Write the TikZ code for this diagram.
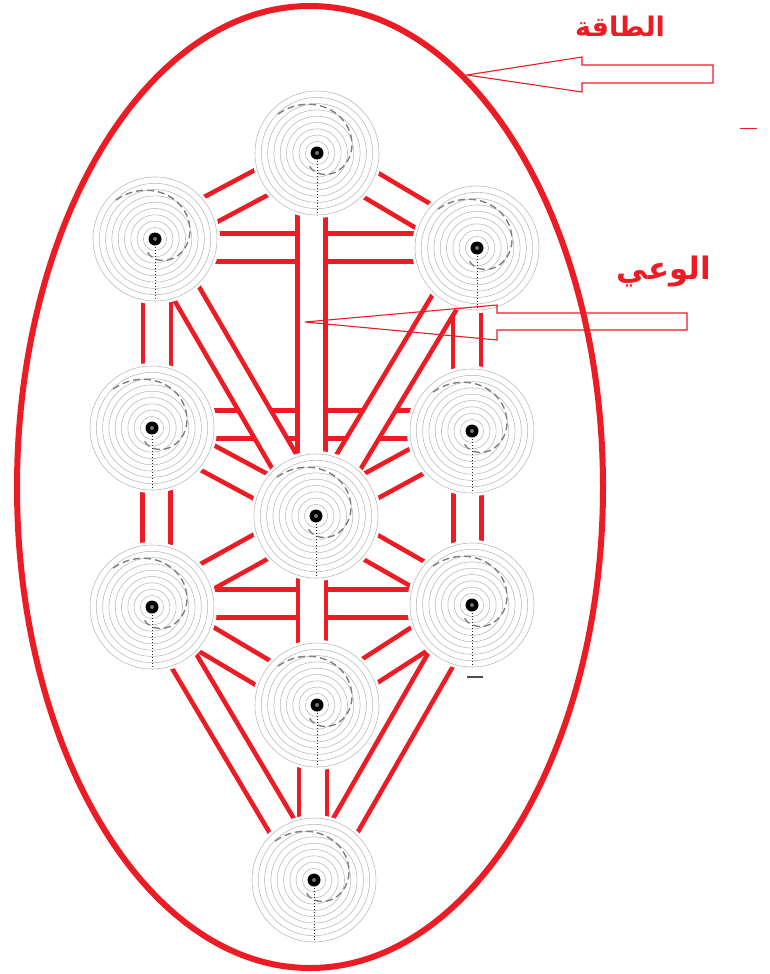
\documentclass[tikz,border=0pt]{standalone}
\usepackage{fontspec}
\usetikzlibrary{calc}
\TeXXeTstate=1
\newfontfamily\arabicfont[Script=Arabic]{DejaVu Sans}
\definecolor{pathred}{RGB}{237,28,36}
\tikzset{
 chan/.style={draw=pathred, line width=4.7pt, double=white, double distance=23.3pt, line cap=butt},
 ringline/.style={draw=black!28, line width=0.55pt},
 spiraldash/.style={draw=black!50, line width=1.4pt, dash pattern=on 7pt off 4pt},
 axisdot/.style={draw=black!85, line width=0.9pt, dash pattern=on 1.3pt off 1.7pt},
 sephira/.pic={
   \fill[white] (0,0) circle (65pt);
   \foreach \r in {62,55.7,49.4,43.1,36.8,30.5,24.2,17.9,11.6}{\draw[ringline] (0,0) circle (\r pt);}
   \draw[spiraldash] plot[domain=0:255, samples=70, smooth] ({(55-40*\x/255)*cos(135-\x)}, {-(55-40*\x/255)*sin(135-\x)});
   \draw[axisdot] (0,8) -- (0,62);
   \fill[black] (0,0) circle (6.5pt);
   \fill[black!55] (0,0) circle (2pt);
 },
 arrowout/.style={draw=pathred, line width=1.1pt, line join=miter},
 arlabel/.style={text=pathred, font=\arabicfont\bfseries, inner sep=0pt},
}
\begin{document}
\begin{tikzpicture}[x=1pt,y=-1pt]
\fill[white] (0,0) rectangle (769,974);
\useasboundingbox (0,0) rectangle (769,974);

% sephirot centres
\coordinate (N1) at (317,153);
\coordinate (N2) at (155,239);
\coordinate (N3) at (477,248);
\coordinate (N4) at (152,428);
\coordinate (N5) at (472,431);
\coordinate (N6) at (316,516);
\coordinate (N7) at (152,607);
\coordinate (N8) at (472,605);
\coordinate (N9) at (317,705);
\coordinate (N10) at (314,880);

% horizontal paths
\draw[chan] ($(N2)+(0,8.5)$) -- ($(N3)+(0,-0.5)$);
\draw[chan] ($(N4)+(0,-3.5)$) -- ($(N5)+(0,-6.5)$);
\draw[chan] ($(N7)+(0,-3.5)$) -- ($(N8)+(0,-1.5)$);
% side pillars
\draw[chan] ($(N2)+(2,0)$) -- ($(N4)+(5,0)$);
\draw[chan] ($(N3)+(-10,0)$) -- ($(N5)+(-5,0)$);
\draw[chan] ($(N4)+(4.5,0)$) -- ($(N7)+(4.5,0)$);
\draw[chan] ($(N5)+(-4.5,0)$) -- ($(N8)+(-4.5,0)$);
% diagonals
\draw[chan] (N1) -- (N2);
\draw[chan] (N1) -- (N3);
\draw[chan] (N2) -- (N6);
\draw[chan] (N3) -- (N6);
\draw[chan] (N4) -- (N6);
\draw[chan] (N5) -- (N6);
\draw[chan] (N6) -- (N7);
\draw[chan] (N6) -- (N8);
\draw[chan] (N7) -- (N10);
\draw[chan] (N8) -- (N10);
\draw[chan] (N7) -- (N9);
\draw[chan] (N8) -- (N9);
% middle pillar
\draw[chan] ($(N1)+(-5.5,0)$) -- ($(N6)+(-4.5,0)$);
\draw[chan] ($(N6)+(-4,0)$) -- ($(N9)+(-5,0)$);
\draw[chan] ($(N9)+(-4,0)$) -- ($(N10)+(-1,0)$);

% sephirot
\foreach \n in {N1,N2,N3,N4,N5,N6,N7,N8,N9,N10}{\pic at (\n) {sephira};}

% outer ellipse
\draw[pathred, line width=6pt] (310,487) ellipse [x radius=293pt, y radius=481pt];

% arrows and labels
\draw[arrowout] (713,65) -- (582,65) -- (582,57) -- (467,75) -- (582,92) -- (582,83) -- (713,83) -- cycle;
\draw[arrowout] (687,313) -- (497,313) -- (497,305) -- (305,322) -- (497,340) -- (497,330) -- (687,330) -- cycle;
\node[arlabel, font=\arabicfont\bfseries\fontsize{27}{31}\selectfont] (energy) at (620,26) {\beginR الطاقة\endR};
\node[arlabel, font=\arabicfont\bfseries\fontsize{31}{35}\selectfont] (awareness) at (664,272) {\beginR الوعي\endR};
\draw[pathred, line width=1pt] (740,128) -- (757,128);
\draw[black!70, line width=1.2pt] (467,677) -- (483,677);
\end{tikzpicture}
\end{document}
